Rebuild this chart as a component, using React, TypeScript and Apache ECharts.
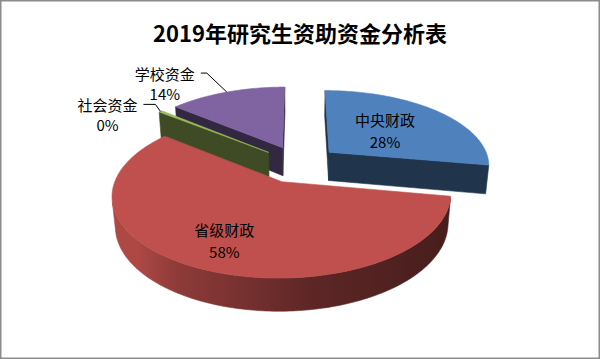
import React, { useEffect, useRef } from 'react';
import * as echarts from 'echarts';

// ---- data ----
const titleText = '2019年研究生资助资金分析表';
const categories = ['中央财政', '省级财政', '社会资金', '学校资金'];
const values = [27.8, 57.9, 0.4, 13.9];
const colors = ['#4F81BD', '#C0504D', '#9BBB59', '#8064A2'];

// ---- view / style ----
const CX = 299;
const CY = 164;
const S = 161;
const SIN_A = 0.465;
const COS_A = Math.sqrt(1 - SIN_A * SIN_A);
const D = 5.6;
const H = 0.205;
const EXPLODE = 0.25;
const FONT = '"Noto Sans CJK SC", "Noto Sans", sans-serif';
const insideLabelRadius: Record<string, number> = { 中央财政: 0.5, 省级财政: 0.72 };
const leaderStyle: Record<string, number[]> = { 学校资金: [-20, -19, -6], 社会资金: [-5, -7, -12] };

function project(X: number, Y: number, Z: number): number[] {
  const yc = Y * COS_A + Z * SIN_A;
  const zc = -Y * SIN_A + Z * COS_A + D;
  const f = D / zc;
  return [CX + S * X * f, CY - S * yc * f];
}

function shade(hex: string, k: number): string {
  const n = parseInt(hex.slice(1), 16);
  const r = Math.round(((n >> 16) & 255) * k);
  const g = Math.round(((n >> 8) & 255) * k);
  const b = Math.round((n & 255) * k);
  return `rgb(${r},${g},${b})`;
}

const total = values.reduce((a, b) => a + b, 0);
const CAM_Z = -D * COS_A;

function labelText(text: string, x: number, y: number) {
  return {
    type: 'text',
    z2: 1000,
    x,
    y,
    style: {
      text,
      fill: '#000',
      fontSize: 15,
      fontFamily: FONT,
      align: 'center',
      verticalAlign: 'middle',
      textAlign: 'center',
      textVerticalAlign: 'middle',
    },
  };
}

function renderSlice(params: any, api: any) {
  const i = params.dataIndex;
  const v = api.value(1) as number;
  const name = categories[i];
  const color = colors[i];
  const before = values.slice(0, i).reduce((a, b) => a + b, 0);
  const a0 = (before / total) * Math.PI * 2;
  const a1 = a0 + (v / total) * Math.PI * 2;
  const mid = (a0 + a1) / 2;
  const ox = EXPLODE * Math.sin(mid);
  const oz = EXPLODE * Math.cos(mid);
  const rim = (t: number, Y: number) => project(ox + Math.sin(t), Y, oz + Math.cos(t));
  const tip = (Y: number) => project(ox, Y, oz);
  const n = Math.max(2, Math.ceil((a1 - a0) / (Math.PI / 180)));
  const ts: number[] = [];
  for (let k = 0; k <= n; k++) ts.push(a0 + ((a1 - a0) * k) / n);

  const base = Math.round((1 - Math.cos(mid)) * 50) * 4;
  const children: any[] = [];
  const side = shade(color, 0.4);

  const grad = new echarts.graphic.LinearGradient(
    CX - S, 0, CX + S, 0,
    [
      { offset: 0, color: shade(color, 0.9) },
      { offset: 0.12, color: shade(color, 0.74) },
      { offset: 0.55, color: shade(color, 0.48) },
      { offset: 1, color: shade(color, 0.36) },
    ],
    true
  );
  let run: number[] = [];
  const flush = () => {
    if (run.length >= 2) {
      const top = run.map((t) => rim(t, 0));
      const bot = run.map((t) => rim(t, -H)).reverse();
      children.push({
        type: 'polygon',
        z2: base + 1,
        shape: { points: top.concat(bot) },
        style: { fill: grad, stroke: grad, lineWidth: 0.6 },
      });
    }
    run = [];
  };
  for (const t of ts) {
    const px = ox + Math.sin(t);
    const pz = oz + Math.cos(t);
    const dot = Math.sin(t) * (0 - px) + Math.cos(t) * (CAM_Z - pz);
    if (dot > 0) run.push(t);
    else flush();
  }
  flush();

  const faces = [
    { a: a0, nx: -Math.cos(a0), nz: Math.sin(a0) },
    { a: a1, nx: Math.cos(a1), nz: -Math.sin(a1) },
  ];
  for (const fc of faces) {
    const dot = fc.nx * (0 - ox) + fc.nz * (CAM_Z - oz);
    if (dot > 0) {
      children.push({
        type: 'polygon',
        z2: base + 1,
        shape: { points: [tip(0), rim(fc.a, 0), rim(fc.a, -H), tip(-H)] },
        style: { fill: side, stroke: side, lineWidth: 0.6 },
      });
    }
  }

  children.push({
    type: 'polygon',
    z2: base + 2,
    shape: { points: [tip(0)].concat(ts.map((t) => rim(t, 0))) },
    style: { fill: color, stroke: color, lineWidth: 0.6 },
  });

  const pct = Math.round((v / total) * 100);
  if (pct >= 20) {
    const r = insideLabelRadius[name] ?? 0.6;
    const p = project(ox + r * Math.sin(mid), 0, oz + r * Math.cos(mid));
    children.push(labelText(name, p[0], p[1] - 11));
    children.push(labelText(`${pct}%`, p[0], p[1] + 11));
  } else {
    const anchor = rim(mid, 0);
    const [dx, dy, hx] = leaderStyle[name] ?? [-10, -10, -8];
    const elbow = [anchor[0] + dx, anchor[1] + dy];
    const end = [elbow[0] + hx, elbow[1]];
    children.push({
      type: 'polyline',
      z2: 999,
      shape: { points: [anchor, elbow, end] },
      style: { stroke: '#000', fill: 'none', lineWidth: 1 },
    });
    const nameWidth = name.length * 15.5;
    const cx = end[0] - 5 - nameWidth / 2;
    children.push(labelText(name, cx, end[1]));
    children.push(labelText(`${pct}%`, cx, end[1] + 20));
  }

  return { type: 'group', children };
}

export default function App() {
  const ref = useRef<HTMLDivElement>(null);
  useEffect(() => {
    if (!ref.current) return;
    const chart = echarts.init(ref.current, undefined, { renderer: 'svg' });
    chart.setOption({
      animation: false,
      backgroundColor: '#ffffff',
      title: {
        text: titleText,
        left: 'center',
        top: 16,
        textStyle: { fontSize: 22, fontWeight: 'bold', fontFamily: FONT, color: '#000' },
      },
      graphic: [
        {
          type: 'rect',
          silent: true,
          shape: { x: 0.75, y: 0.75, width: 598.5, height: 357.5 },
          style: { fill: 'none', stroke: '#8c8c8c', lineWidth: 1.5 },
        },
      ],
      series: [
        {
          type: 'custom',
          coordinateSystem: 'none',
          silent: true,
          data: values.map((v, i) => ({ value: [i, v], name: categories[i] })),
          renderItem: renderSlice,
        },
      ],
    });
    return () => chart.dispose();
  }, []);
  return (
    <div
      ref={ref}
      style={{ position: 'fixed', left: 0, top: 0, width: 600, height: 359, background: '#fff' }}
    />
  );
}
